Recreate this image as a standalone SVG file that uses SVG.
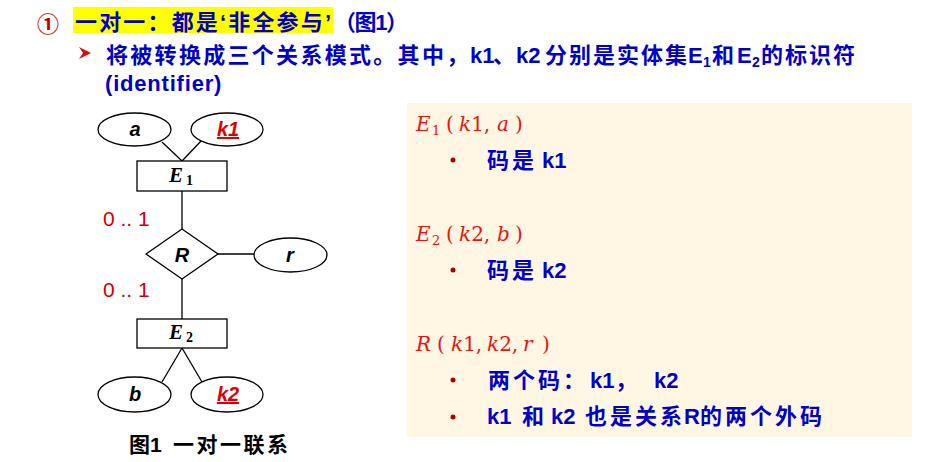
<svg xmlns="http://www.w3.org/2000/svg" width="950" height="462" viewBox="0 0 950 462">
<style>
.t{font-family:"Liberation Sans","Noto Sans CJK SC",sans-serif;font-weight:bold;font-size:22px;fill:#0000C8}
.p{font-family:"Liberation Sans","Noto Sans CJK SC",sans-serif;font-weight:bold;font-size:22px;fill:#0000C8}
.m{font-family:"DejaVu Serif","Liberation Serif",serif;font-size:20px;fill:#F01010}
.mi{font-style:italic}
.shape{fill:#fff;stroke:#000;stroke-width:1.3}
.lbl{font-family:"Liberation Sans",sans-serif;font-weight:bold;font-style:italic;font-size:20px;fill:#000;text-anchor:middle}
.key{fill:#E00000;text-decoration:underline}
.ent{font-family:"Liberation Serif",serif;font-weight:bold;font-style:italic;font-size:21px;fill:#000}
.card{font-family:"Liberation Sans",sans-serif;font-size:21px;fill:#D00000}
.conn line{stroke:#000;stroke-width:1.3}
.bul{fill:#B00000}
</style>

<!-- Title -->
<text x="37" y="32" style="font-family:'Noto Sans CJK SC','DejaVu Sans',sans-serif;font-weight:bold;font-size:22px;fill:#C00000">①</text>
<rect x="73" y="7" width="260" height="26" fill="#FFFF00"/>
<text class="t" x="75" y="30" textLength="256" lengthAdjust="spacing">一对一：都是‘非全参与’</text>
<text class="t" x="334" y="30" textLength="74" lengthAdjust="spacing">（图1）</text>

<polygon points="79,47 91,53 79,59 83,53" fill="#D01010"/>
<text class="t" y="63"><tspan x="106" letter-spacing="2.3">将被转换成三个关系模式。其中，</tspan><tspan x="470">k1</tspan><tspan x="493">、</tspan><tspan x="516">k2</tspan><tspan x="545" letter-spacing="2">分别是实体集</tspan><tspan x="688">E</tspan><tspan x="703" dy="4" font-size="14">1</tspan><tspan x="712" dy="-4">和</tspan><tspan x="737">E</tspan><tspan x="752" dy="4" font-size="14">2</tspan><tspan x="761" dy="-4" letter-spacing="2">的标识符</tspan></text>
<text class="t" x="105" y="91" letter-spacing="0.8">(identifier)</text>

<!-- Connectors -->
<g id="connectors" class="conn">
<line x1="162" y1="142" x2="182" y2="161"/>
<line x1="202" y1="140" x2="182" y2="161"/>
<line x1="182" y1="191" x2="182" y2="229"/>
<line x1="218" y1="254" x2="254" y2="254"/>
<line x1="182" y1="279" x2="182" y2="319"/>
<line x1="182" y1="348" x2="162" y2="382"/>
<line x1="182" y1="348" x2="202" y2="382"/>
<text class="card" x="103" y="226">0 .. 1</text>
<text class="card" x="103" y="297">0 .. 1</text>
</g>

<!-- Nodes -->
<g id="a"><ellipse class="shape" cx="134.5" cy="129.5" rx="36.5" ry="16.5"/><text class="lbl" x="135" y="136">a</text></g>
<g id="k1"><ellipse class="shape" cx="227" cy="129.5" rx="36" ry="16.5"/><text class="lbl key" x="228" y="136">k1</text></g>
<g id="E1"><rect class="shape" x="137" y="161" width="90" height="30"/><text class="ent" x="169" y="182">E<tspan dx="3" dy="3" font-size="14" font-style="normal">1</tspan></text></g>
<g id="R"><polygon class="shape" points="182,229 218,254 182,279 146,254"/><text class="lbl" x="182" y="262">R</text></g>
<g id="r"><ellipse class="shape" cx="290.5" cy="255" rx="36.5" ry="17"/><text class="lbl" x="290" y="262">r</text></g>
<g id="E2"><rect class="shape" x="137" y="319" width="90" height="29"/><text class="ent" x="169" y="339">E<tspan dx="3" dy="3" font-size="14" font-style="normal">2</tspan></text></g>
<g id="b"><ellipse class="shape" cx="134.5" cy="394.5" rx="36.5" ry="17.5"/><text class="lbl" x="135" y="401">b</text></g>
<g id="k2"><ellipse class="shape" cx="227" cy="394.5" rx="36" ry="17.5"/><text class="lbl key" x="228" y="401">k2</text></g>

<text x="129" y="452" style="font-family:'Liberation Sans','Noto Sans CJK SC',sans-serif;font-weight:bold;font-size:21px;fill:#000">图1<tspan x="173" letter-spacing="2.5">一对一联系</tspan></text>

<!-- Right panel -->
<rect x="407" y="103" width="505" height="334" fill="#FFF7E3"/>

<text class="m" y="131"><tspan x="416" class="mi">E</tspan><tspan x="432" dy="4" font-size="13">1</tspan><tspan x="446" dy="-4">(</tspan><tspan x="459" class="mi">k</tspan><tspan>1,</tspan><tspan x="497" class="mi">a</tspan><tspan x="515">)</tspan></text>
<circle class="bul" cx="453" cy="160" r="2.5"/>
<text class="p" y="168"><tspan x="487" letter-spacing="3">码是</tspan><tspan x="542">k1</tspan></text>

<text class="m" y="241"><tspan x="416" class="mi">E</tspan><tspan x="432" dy="4" font-size="13">2</tspan><tspan x="446" dy="-4">(</tspan><tspan x="459" class="mi">k</tspan><tspan>2,</tspan><tspan x="497" class="mi">b</tspan><tspan x="515">)</tspan></text>
<circle class="bul" cx="453" cy="270" r="2.5"/>
<text class="p" y="278"><tspan x="487" letter-spacing="3">码是</tspan><tspan x="542">k2</tspan></text>

<text class="m" y="351"><tspan x="416" class="mi">R</tspan><tspan x="437">(</tspan><tspan x="451" class="mi">k</tspan><tspan>1,</tspan><tspan x="487" class="mi">k</tspan><tspan>2,</tspan><tspan x="523" class="mi">r</tspan><tspan x="542">)</tspan></text>
<circle class="bul" cx="453" cy="380" r="2.5"/>
<text class="p" y="388"><tspan x="488" letter-spacing="3">两个码：</tspan><tspan x="590">k1</tspan><tspan x="615">，</tspan><tspan x="654">k2</tspan></text>
<circle class="bul" cx="453" cy="417" r="2.5"/>
<text class="p" y="424"><tspan x="487">k1</tspan><tspan x="522">和</tspan><tspan x="551">k2</tspan><tspan x="585" letter-spacing="3">也是关系</tspan><tspan x="684">R</tspan><tspan x="700" letter-spacing="3">的两个外码</tspan></text>
</svg>
